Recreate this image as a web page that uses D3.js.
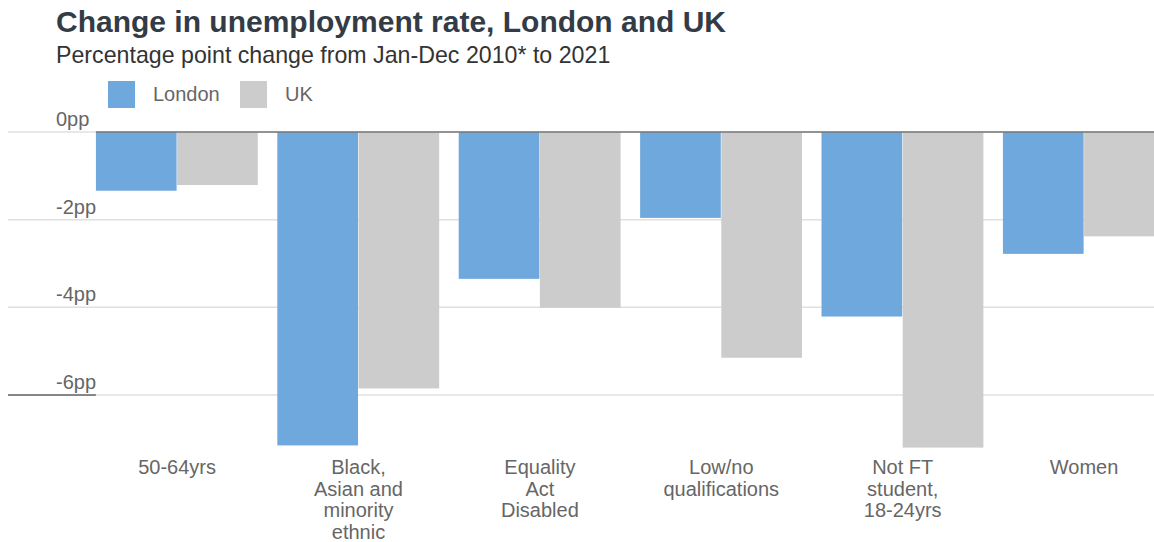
<!DOCTYPE html>
<html>
<head>
<meta charset="utf-8">
<script src="https://cdn.jsdelivr.net/npm/d3@7"></script>
<style>
  html, body { margin: 0; padding: 0; background: #fff; overflow: hidden; }
  svg { display: block; font-family: "Liberation Sans", Arial, sans-serif; }
</style>
</head>
<body>
<svg id="chart" width="1154" height="542"></svg>
<script>
// Categories (each split into display lines) and the two series, in percentage points
const categories = [
  "50-64yrs",
  "Black, Asian and minority ethnic",
  "Equality Act Disabled",
  "Low/no qualifications",
  "Not FT student, 18-24yrs",
  "Women"
];
const categoryLines = [
  ["50-64yrs"],
  ["Black,", "Asian and", "minority", "ethnic"],
  ["Equality", "Act", "Disabled"],
  ["Low/no", "qualifications"],
  ["Not FT", "student,", "18-24yrs"],
  ["Women"]
];
const seriesNames = ["London", "UK"];
const london = [-1.34, -7.15, -3.35, -1.96, -4.21, -2.78];
const uk = [-1.21, -5.85, -4.01, -5.15, -7.2, -2.38];
const yTicks = [0, -2, -4, -6];
const yTickLabels = ["0pp", "-2pp", "-4pp", "-6pp"];

const colors = { London: "#6fa8dc", UK: "#cccccc" };

const svg = d3.select("#chart");
const W = 1154;

// Title and subtitle
svg.append("text")
  .attr("x", 56).attr("y", 32)
  .attr("font-size", 30).attr("font-weight", "bold")
  .attr("fill", "#333c46")
  .text("Change in unemployment rate, London and UK");
svg.append("text")
  .attr("x", 56).attr("y", 63)
  .attr("font-size", 23.2)
  .attr("fill", "#333")
  .text("Percentage point change from Jan-Dec 2010* to 2021");

// Legend
const legendX = [108, 240];
seriesNames.forEach((name, i) => {
  const g = svg.append("g").attr("transform", `translate(${legendX[i]},81)`);
  g.append("rect").attr("width", 27).attr("height", 27).attr("fill", colors[name]);
  g.append("text").attr("x", 45).attr("y", 19.5)
    .attr("font-size", 20).attr("fill", "#666").text(name);
});

// Scales
const y = d3.scaleLinear().domain([0, -6]).range([132, 395]);
const x0 = d3.scaleBand()
  .domain(categories)
  .range([86.4, 1174.8])
  .paddingInner(0.105)
  .paddingOuter(0.0525);
const x1 = d3.scaleBand().domain(seriesNames).range([0, x0.bandwidth()]);

// Gridlines
const grid = svg.append("g");
yTicks.forEach(t => {
  grid.append("line")
    .attr("x1", 8).attr("x2", W)
    .attr("y1", y(t)).attr("y2", y(t))
    .attr("stroke", "#e0e0e0").attr("stroke-width", 1.5);
});

// Y tick labels
yTicks.forEach((t, i) => {
  svg.append("text")
    .attr("x", 56).attr("y", y(t) - 6)
    .attr("font-size", 20).attr("fill", "#666")
    .text(yTickLabels[i]);
});

// Bars
const groups = svg.append("g").selectAll("g")
  .data(categories)
  .join("g")
  .attr("transform", d => `translate(${x0(d)},0)`);

groups.selectAll("rect")
  .data((d, i) => [
    { key: "London", value: london[i] },
    { key: "UK", value: uk[i] }
  ])
  .join("rect")
  .attr("x", d => x1(d.key))
  .attr("width", x1.bandwidth() - 0.5)
  .attr("y", d => y(Math.max(0, d.value)))
  .attr("height", d => Math.abs(y(d.value) - y(0)))
  .attr("fill", d => colors[d.key]);

// Baseline at zero and the short axis stub at -6pp
svg.append("line")
  .attr("x1", x0.range()[0] + 9.5).attr("x2", W)
  .attr("y1", y(0)).attr("y2", y(0))
  .attr("stroke", "#777").attr("stroke-width", 1.5);
svg.append("line")
  .attr("x1", 8).attr("x2", x0.range()[0] + 9.5)
  .attr("y1", y(-6)).attr("y2", y(-6))
  .attr("stroke", "#666").attr("stroke-width", 1.5);

// Category labels
svg.append("g").selectAll("text")
  .data(categories)
  .join("text")
  .attr("text-anchor", "middle")
  .attr("font-size", 20)
  .attr("fill", "#666")
  .attr("x", d => x0(d) + x0.bandwidth() / 2)
  .attr("y", 474)
  .each(function(d, i) {
    d3.select(this).selectAll("tspan")
      .data(categoryLines[i])
      .join("tspan")
      .attr("x", x0(d) + x0.bandwidth() / 2)
      .attr("dy", (l, j) => j === 0 ? 0 : 21.5)
      .text(l => l);
  });
</script>
</body>
</html>
